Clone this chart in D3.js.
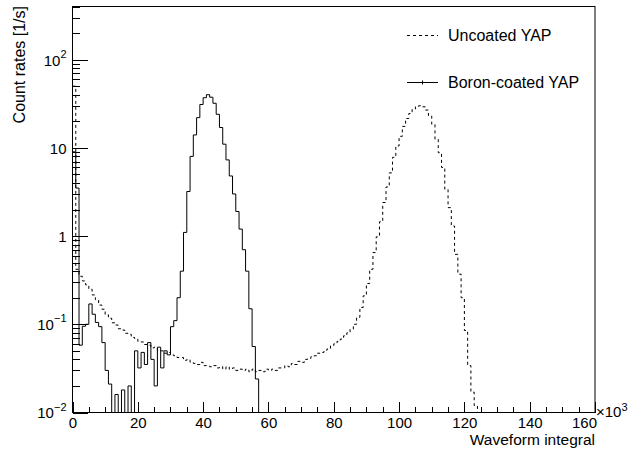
<!DOCTYPE html>
<html>
<head>
<meta charset="utf-8">
<script src="https://cdn.jsdelivr.net/npm/d3@7"></script>
<style>
body { margin: 0; background: #fff; }
text { font-family: "Liberation Sans", Arial, Helvetica, sans-serif; fill: #000; }
</style>
</head>
<body>
<div class="chart"></div>
<script>
// bins are 1 (x10^3) wide, starting at 0
var binStart = 0, binWidth = 1;

// Uncoated YAP, count rate per bin [1/s]
var uncoatedRates = [
  50, 0.42, 0.35, 0.31, 0.28, 0.25, 0.215, 0.19, 0.165, 0.148,
  0.128, 0.117, 0.104, 0.098, 0.089, 0.086, 0.079, 0.077, 0.071, 0.069,
  0.064, 0.063, 0.059, 0.058, 0.054, 0.055, 0.051, 0.05, 0.047, 0.048,
  0.045, 0.044, 0.042, 0.042, 0.039, 0.04, 0.037, 0.036, 0.035, 0.037,
  0.034, 0.034, 0.033, 0.034, 0.032, 0.033, 0.031, 0.033, 0.031, 0.032,
  0.03, 0.031, 0.03, 0.031, 0.029, 0.031, 0.029, 0.03, 0.029, 0.031,
  0.03, 0.031, 0.03, 0.032, 0.032, 0.034, 0.033, 0.036, 0.035, 0.038,
  0.037, 0.04, 0.041, 0.043, 0.044, 0.047, 0.048, 0.051, 0.053, 0.057,
  0.06, 0.064, 0.068, 0.074, 0.08, 0.088, 0.1, 0.12, 0.155, 0.21,
  0.29, 0.42, 0.65, 0.98, 1.45, 2.4, 3.6, 5.2, 7.8, 10.5,
  13.5, 17.5, 21.5, 24.5, 27.5, 29.3, 30, 29.2, 26.8, 23,
  18.5, 12.5, 8.8, 6, 3.4, 2.1, 1.3, 0.62, 0.37, 0.2,
  0.085, 0.034, 0.017, 0.012, 0
];

// Boron-coated YAP, count rate per bin [1/s]
var boronRates = [
  9, 3.5, 0.058, 0.095, 0.1, 0.17, 0.13, 0.105, 0.094, 0.062,
  0.03, 0.021, 0.009, 0.016, 0.006, 0.018, 0.007, 0.02, 0.009, 0.05,
  0.032, 0.048, 0.035, 0.062, 0.04, 0.02, 0.055, 0.032, 0.05, 0.045,
  0.094, 0.11, 0.2, 0.4, 1.1, 3.2, 8, 14, 22, 31,
  37, 40, 37.5, 32, 24, 17, 11, 7.3, 4.8, 3.0,
  1.9, 1.2, 0.7, 0.4, 0.15, 0.056, 0.024, 0
];

var xTicks = [0, 20, 40, 60, 80, 100, 120, 140, 160];
var yDecades = [0.01, 0.1, 1, 10, 100];
var yLabelBase = ["10", "10", "1", "10", "10"];
var yLabelExp = ["\u22122", "\u22121", "", "", "2"];
var seriesNames = ["Uncoated YAP", "Boron-coated YAP"];
var xTitle = "Waveform integral";
var yTitle = "Count rates [1/s]";

var width = 641, height = 451;
var frame = {left: 72.5, right: 595, top: 6.5, bottom: 412.5};

var x = d3.scaleLinear().domain([0, 160]).range([frame.left, frame.right]);
var y = d3.scaleLog().domain([0.01, 400]).range([frame.bottom, frame.top]).clamp(true);

// values at or below 0 go to the bottom of the frame
function yv(v) {
  return v > 0 ? y(v) : frame.bottom;
}

var svg = d3.select(".chart").append("svg")
  .attr("width", width)
  .attr("height", height);

svg.append("clipPath").attr("id", "frameClip")
  .append("rect")
  .attr("x", frame.left).attr("y", frame.top)
  .attr("width", frame.right - frame.left)
  .attr("height", frame.bottom - frame.top);

//staircase of a histogram
function histPoints(rates) {
  var pts = rates.map(function (v, i) { return [binStart + i * binWidth, v]; });
  pts.push([binStart + rates.length * binWidth, rates[rates.length - 1]]);
  return pts;
}
var hline = d3.line()
  .x(function (d) { return x(d[0]); })
  .y(function (d) { return yv(d[1]); })
  .curve(d3.curveStepAfter);

var plot = svg.append("g").attr("clip-path", "url(#frameClip)");

plot.append("path")
  .attr("d", hline(histPoints(uncoatedRates)))
  .attr("fill", "none")
  .attr("stroke", "#000")
  .attr("stroke-width", 1)
  .attr("stroke-dasharray", "3,3");

plot.append("path")
  .attr("d", hline(histPoints(boronRates)))
  .attr("fill", "none")
  .attr("stroke", "#000")
  .attr("stroke-width", 1);

// ===== axes =====
var xMinor = d3.range(0, 161, 5).filter(function (v) { return v % 20 !== 0; });
var xg = svg.append("g")
  .attr("transform", "translate(0," + frame.bottom + ")")
  .call(d3.axisBottom(x).tickValues(xTicks).tickSizeInner(-11).tickSizeOuter(0).tickPadding(5));
svg.append("g")
  .attr("transform", "translate(0," + frame.bottom + ")")
  .call(d3.axisBottom(x).tickValues(xMinor).tickSizeInner(-5.5).tickSizeOuter(0).tickFormat(""));

var yMinor = [];
yDecades.forEach(function (d) {
  for (var m = 2; m <= 9; m++) {
    if (d * m <= 400) yMinor.push(d * m);
  }
});
var yg = svg.append("g")
  .attr("transform", "translate(" + frame.left + ",0)")
  .call(d3.axisLeft(y).tickValues(yDecades).tickSizeInner(-15.5).tickSizeOuter(0).tickPadding(6).tickFormat(""));
svg.append("g")
  .attr("transform", "translate(" + frame.left + ",0)")
  .call(d3.axisLeft(y).tickValues(yMinor).tickSizeInner(-7.7).tickSizeOuter(0).tickFormat(""));

svg.selectAll(".domain").remove();
svg.selectAll(".tick line").attr("stroke", "#000").attr("shape-rendering", "crispEdges");

xg.selectAll(".tick text")
  .attr("font-size", 15)
  .style("font-family", "Liberation Sans, Arial, sans-serif")
  .attr("fill", "#000");
// last label is pushed left, like ROOT does next to the exponent
xg.selectAll(".tick text").filter(function (d) { return d === 160; }).attr("dx", -11);

// y labels with exponents
yg.selectAll(".tick text").each(function (d, i) {
  var t = d3.select(this)
    .attr("font-size", 15)
    .style("font-family", "Liberation Sans, Arial, sans-serif")
    .attr("fill", "#000")
    .attr("dy", "0.36em");
  var k = yDecades.indexOf(d);
  t.append("tspan").text(yLabelBase[k]);
  if (yLabelExp[k] !== "") {
    t.append("tspan").attr("font-size", 11).attr("dy", "-0.7em").text(yLabelExp[k]);
  }
});

// x10^3 exponent
var expo = svg.append("text")
  .attr("x", frame.right + 1)
  .attr("y", 417)
  .attr("font-size", 15);
expo.append("tspan").text("\u00d710");
expo.append("tspan").attr("font-size", 11).attr("dy", -6).text("3");

// frame
svg.append("rect")
  .attr("x", frame.left).attr("y", frame.top)
  .attr("width", frame.right - frame.left)
  .attr("height", frame.bottom - frame.top)
  .attr("fill", "none")
  .attr("stroke", "#000")
  .attr("stroke-width", 1);

// titles
svg.append("text")
  .attr("x", frame.right)
  .attr("y", 444.5)
  .attr("text-anchor", "end")
  .attr("font-size", 15.5)
  .text(xTitle);

svg.append("text")
  .attr("transform", "translate(25," + (frame.top - 0.5) + ") rotate(-90)")
  .attr("text-anchor", "end")
  .attr("font-size", 16)
  .text(yTitle);

// ===== legend =====
var legendY = [35, 82];
var legendDash = ["3,3", null];
var leg = svg.append("g").selectAll("g")
  .data(seriesNames)
  .enter().append("g")
  .attr("transform", function (d, i) { return "translate(0," + legendY[i] + ")"; });

leg.append("line")
  .attr("x1", 407).attr("x2", 438)
  .attr("y1", 0.5).attr("y2", 0.5)
  .attr("stroke", "#000")
  .attr("stroke-dasharray", function (d, i) { return legendDash[i]; });

leg.filter(function (d, i) { return i === 1; })
  .append("line")
  .attr("x1", 422.5).attr("x2", 422.5)
  .attr("y1", -1.5).attr("y2", 2.5)
  .attr("stroke", "#000");

leg.append("text")
  .attr("x", 448)
  .attr("y", 6)
  .attr("font-size", 16)
  .text(function (d) { return d; });
</script>
</body>
</html>
